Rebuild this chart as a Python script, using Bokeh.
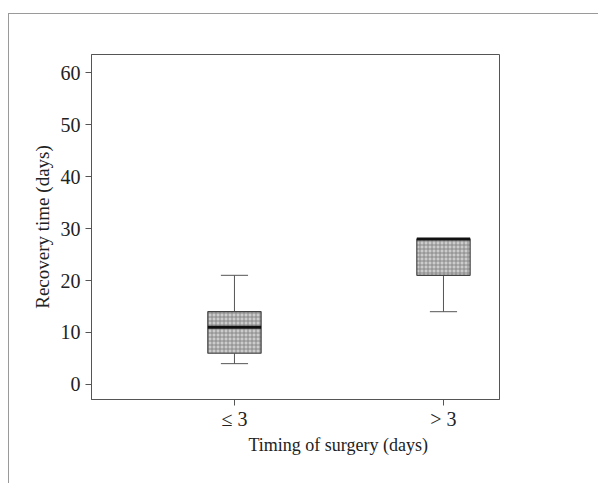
from bokeh.plotting import figure
from bokeh.models import FixedTicker, Range1d, Title, ColumnDataSource
from bokeh.embed import file_html
from bokeh.resources import INLINE

groups = ["≤ 3", "> 3"]
positions = [1, 2]
q1 = [6, 21]
q3 = [14, 28]
median = [11, 28]
lower = [4, 14]
upper = [21, 28]

FONT = "Liberation Serif"

p = figure(width=590, height=470, output_backend="svg", toolbar_location=None,
           x_range=Range1d(0.316, 2.268), y_range=Range1d(-2.9, 63.5),
           min_border_left=82, min_border_top=40, min_border_right=100, min_border_bottom=85)
p.styles = {"border-left": "1px solid #9a9a9a", "border-top": "1px solid #9a9a9a",
            "margin-top": "13px", "margin-left": "8px"}
p.grid.visible = False
p.outline_line_color = "#555555"
p.outline_line_width = 1

src = ColumnDataSource(dict(x=positions, q1=q1, q3=q3, med=median, lo=lower, hi=upper,
                            cl=[v - 0.065 for v in positions], cr=[v + 0.065 for v in positions]))

p.segment(x0="x", y0="q3", x1="x", y1="hi", source=src, line_color="#555555", line_width=1)
p.segment(x0="x", y0="lo", x1="x", y1="q1", source=src, line_color="#555555", line_width=1)
p.segment(x0="cl", y0="hi", x1="cr", y1="hi", source=src, line_color="#555555", line_width=1)
p.segment(x0="cl", y0="lo", x1="cr", y1="lo", source=src, line_color="#555555", line_width=1)

p.vbar(x="x", width=0.255, bottom="q1", top="q3", source=src,
       fill_color="#cccccc", line_color="#444444", line_width=1.2,
       hatch_pattern="+", hatch_color="#7a7a7a", hatch_scale=4, hatch_weight=0.8)
p.vbar(x="x", width=0.255, bottom="med", top="med", source=src, line_color="#111111", line_width=3)

p.xaxis.ticker = FixedTicker(ticks=positions)
p.xaxis.major_label_overrides = {pos: g for pos, g in zip(positions, groups)}
p.yaxis.ticker = FixedTicker(ticks=[0, 10, 20, 30, 40, 50, 60])
for ax in p.xaxis + p.yaxis:
    ax.minor_tick_line_color = None
    ax.major_tick_in = 0
    ax.major_tick_out = 6
    ax.axis_line_color = "#555555"
    ax.major_tick_line_color = "#555555"
    ax.major_label_text_font = FONT
    ax.major_label_text_font_size = "20px"
    ax.major_label_text_color = "#222222"
    ax.axis_label_text_font = FONT
    ax.axis_label_text_font_style = "normal"
    ax.axis_label_text_font_size = "19px"
    ax.axis_label_text_color = "#222222"
p.yaxis.axis_label = "Recovery time (days)"
p.yaxis.major_label_standoff = 5
p.yaxis.axis_label_standoff = 5
p.xaxis.major_label_standoff = 2

p.add_layout(Title(text="Timing of surgery (days)", align="left", offset=157, standoff=0,
                   text_font=FONT, text_font_size="18px", text_font_style="normal",
                   text_color="#222222"), "below")

open("out.html", "w").write(file_html(p, INLINE))
